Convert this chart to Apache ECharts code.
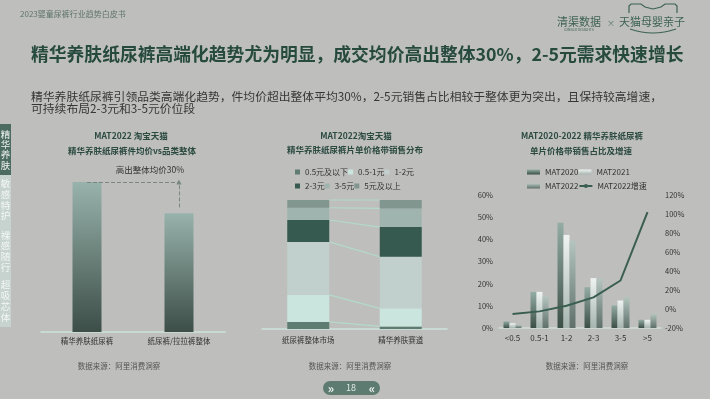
<!DOCTYPE html>
<html><head><meta charset="utf-8">
<script src="https://cdn.jsdelivr.net/npm/echarts@6/dist/echarts.min.js"></script>
<style>html,body{margin:0;padding:0;background:#bebebd;}#c{width:710px;height:399px;}</style>
</head><body><div id="c"></div>
<script>
// ---- Data ----
const c1Categories = ['精华养肤纸尿裤', '纸尿裤/拉拉裤整体'];
const c1Values = [130, 103];
const c1ArrowFrom = 108;

const c2Categories = ['纸尿裤整体市场', '精华养肤赛道'];
const c2Bands = ['0.5元及以下', '0.5-1元', '1-2元', '2-3元', '3-5元', '5元及以上'];
const c2Market = [5.5, 21, 41, 17, 9.5, 6];
const c2Essence = [2, 14, 40, 23, 14.5, 6.5];

const c3Categories = ['<0.5', '0.5-1', '1-2', '2-3', '3-5', '>5'];
const c3Mat2020 = [3.0, 16.3, 47.5, 18.4, 10.2, 3.7];
const c3Mat2021 = [2.2, 16.3, 42.0, 22.5, 12.4, 3.7];
const c3Mat2022 = [1.4, 14.2, 39.3, 22.2, 14.0, 6.4];
const c3Growth = [-5.3, -2.5, 3.5, 12.2, 30, 102];

// ---- Styles ----
const FONT = 'Noto Sans CJK SC';
const c2Colors = ['#5e7c72', '#c9e5de', '#c1d0cd', '#365a4f', '#9fb4ae', '#80968f'];
const c2BarWidth = 42;
function vgrad(top, bottom) {
  return new echarts.graphic.LinearGradient(0, 0, 0, 1, [{offset: 0, color: top}, {offset: 1, color: bottom}]);
}

const chart = echarts.init(document.getElementById('c'), null, {renderer: 'canvas'});

// connectors between stacked bars
const connectorData = [];
let s1 = 0, s2 = 0;
for (let i = 0; i < c2Bands.length; i++) {
  s1 += c2Market[i]; s2 += c2Essence[i];
  connectorData.push([0, s1, s2]);
}

const c2Series = c2Bands.map((name, i) => ({
  name, type: 'bar', stack: 'dist', xAxisIndex: 1, yAxisIndex: 1,
  barWidth: c2BarWidth, data: [c2Market[i], c2Essence[i]],
  itemStyle: {color: c2Colors[i]}, silent: true
}));

function txt(x, y, text, size, color, opts) {
  return {
    type: 'text', x, y, silent: true,
    style: Object.assign({text, fontSize: size, fill: color, fontFamily: FONT, textAlign: 'center', textVerticalAlign: 'middle'}, opts || {})
  };
}

const graphics = [
  txt(20, 14, '2023婴童尿裤行业趋势白皮书', 8, '#5e746c', {textAlign: 'left'}),
  txt(31, 54, '精华养肤纸尿裤高端化趋势尤为明显，成交均价高出整体30%，2-5元需求快速增长', 17.8, '#264a3d', {textAlign: 'left', fontWeight: 'bold'}),
  txt(31, 97, '精华养肤纸尿裤引领品类高端化趋势，件均价超出整体平均30%，2-5元销售占比相较于整体更为突出，且保持较高增速，', 11.8, '#363636', {textAlign: 'left'}),
  txt(31, 109, '可持续布局2-3元和3-5元价位段', 11.8, '#363636', {textAlign: 'left'}),
  // logo
  txt(579, 22, '清渠数据', 11, '#3d6255'),
  txt(579, 30, 'GINSGO INSIGHTS', 3.5, '#3d6255'),
  txt(611, 23, '×', 8, '#55716a'),
  txt(652, 22, '天猫母婴亲子', 11, '#3d6255'),
  {type: 'polyline', silent: true,
   shape: {points: [[629, 13], [629, 6], [631, 4], [641, 4], [645, 7], [653, 9], [661, 7], [665, 4], [675, 4], [677, 6], [677, 13]]},
   style: {stroke: '#3d6255', lineWidth: 1.2, fill: null}},
  {type: 'bezierCurve', silent: true,
   shape: {x1: 630, y1: 29, x2: 676, y2: 29, cpx1: 653, cpy1: 37},
   style: {stroke: '#3d6255', lineWidth: 1.2, fill: null}},
  // sidebar
  {type: 'rect', silent: true, shape: {x: 0, y: 124, width: 11, height: 51}, style: {fill: '#4c6b61'}},
  {type: 'rect', silent: true, shape: {x: 0, y: 175, width: 11, height: 152}, style: {fill: '#c6d3cf'}},
  txt(5.5, 149.5, '精\n华\n养\n肤', 9.5, '#eef3f1', {lineHeight: 10.4}),
  txt(5.5, 199.5, '敏\n感\n特\n护', 9.5, '#f4f7f6', {lineHeight: 10.9}),
  txt(5.5, 251, '裸\n感\n随\n行', 9.5, '#f4f7f6', {lineHeight: 10.6}),
  txt(5.5, 300.5, '超\n吸\n芯\n体', 9.5, '#f4f7f6', {lineHeight: 11}),
  // chart 1 texts
  txt(131, 136, 'MAT2022 淘宝天猫', 8.5, '#2b4a40', {fontWeight: 'bold'}),
  txt(132, 151, '精华养肤纸尿裤件均价vs品类整体', 8.5, '#2b4a40', {fontWeight: 'bold'}),
  txt(150, 170, '高出整体均价30%', 8.5, '#333333'),
  txt(119, 366, '数据来源：阿里消费洞察', 7.5, '#555555'),
  // chart 2 texts
  txt(356, 136, 'MAT2022淘宝天猫', 8.5, '#2b4a40', {fontWeight: 'bold'}),
  txt(355, 150, '精华养肤纸尿裤片单价格带销售分布', 8.5, '#2b4a40', {fontWeight: 'bold'}),
  txt(350, 366, '数据来源：阿里消费洞察', 7.5, '#555555'),
  // chart 3 texts
  txt(582, 136, 'MAT2020-2022 精华养肤纸尿裤', 8.5, '#2b4a40', {fontWeight: 'bold'}),
  txt(581, 151, '单片价格带销售占比及增速', 8.5, '#2b4a40', {fontWeight: 'bold'}),
  txt(587, 366, '数据来源：阿里消费洞察', 7.5, '#555555'),
  // pager
  {type: 'rect', silent: true, shape: {x: 323, y: 381, width: 57, height: 14, r: 7}, style: {fill: '#5d7b71'}},
  txt(331, 388, '»', 12, '#eef4f2', {fontWeight: 'bold'}),
  txt(351, 388, '18', 9, '#dfe9e6'),
  txt(372, 388, '«', 12, '#eef4f2', {fontWeight: 'bold'})
];

const axisLabelStyle = {fontSize: 7.5, color: '#333', fontFamily: FONT};

const option = {
  backgroundColor: '#bebebd',
  animation: false,
  textStyle: {fontFamily: FONT},
  grid: [
    {left: 41, top: 182, width: 184, height: 150},
    {left: 262, top: 200, width: 185, height: 129},
    {left: 499, top: 195, width: 162, height: 133}
  ],
  xAxis: [
    {type: 'category', gridIndex: 0, data: c1Categories,
     axisLine: {lineStyle: {color: '#cde3dc', width: 1.5}}, axisTick: {show: false},
     axisLabel: Object.assign({margin: 5}, axisLabelStyle)},
    {type: 'category', gridIndex: 1, data: c2Categories,
     axisLine: {lineStyle: {color: '#cde3dc', width: 1.5}}, axisTick: {show: false},
     axisLabel: Object.assign({margin: 7}, axisLabelStyle)},
    {type: 'category', gridIndex: 2, data: c3Categories,
     axisLine: {lineStyle: {color: '#d0ddd8', width: 1.5}}, axisTick: {show: false},
     axisLabel: Object.assign({margin: 6}, axisLabelStyle, {fontSize: 8})}
  ],
  yAxis: [
    {type: 'value', gridIndex: 0, min: 0, max: 130, show: false},
    {type: 'value', gridIndex: 1, min: 0, max: 100, show: false},
    {type: 'value', gridIndex: 2, min: 0, max: 60, interval: 10, splitLine: {show: false},
     axisLine: {show: false}, axisTick: {show: false},
     axisLabel: Object.assign({margin: 6, formatter: '{value}%'}, axisLabelStyle)},
    {type: 'value', gridIndex: 2, min: -20, max: 120, interval: 20, position: 'right', splitLine: {show: false},
     axisLine: {show: false}, axisTick: {show: false},
     axisLabel: Object.assign({margin: 4, formatter: '{value}%'}, axisLabelStyle)}
  ],
  legend: [
    {left: 290, top: 163, itemWidth: 5, itemHeight: 5, itemGap: 0, icon: 'rect', selectedMode: false,
     textStyle: {fontSize: 8, color: '#333', width: 34}, data: c2Bands.slice(0, 3)},
    {left: 290, top: 177, itemWidth: 5, itemHeight: 5, itemGap: 0, icon: 'rect', selectedMode: false,
     textStyle: {fontSize: 8, color: '#333', width: 34}, data: c2Bands.slice(3, 6)},
    {left: 522, top: 163, itemWidth: 13, itemHeight: 5, itemGap: 0, selectedMode: false,
     textStyle: {fontSize: 8, color: '#333', width: 43},
     data: [{name: 'MAT2020', icon: 'rect'}, {name: 'MAT2021', icon: 'rect'}]},
    {left: 522, top: 177, itemWidth: 13, itemHeight: 5, itemGap: 0, selectedMode: false,
     textStyle: {fontSize: 8, color: '#333', width: 43},
     data: [{name: 'MAT2022', icon: 'rect'}, {name: 'MAT2022增速'}]}
  ],
  series: [
    {type: 'bar', xAxisIndex: 0, yAxisIndex: 0, barWidth: 29, data: c1Values, silent: true,
     itemStyle: {color: vgrad('#98b3ac', '#3c4e47')},
     markLine: {silent: true, symbol: ['none', 'none'], symbolSize: 5, label: {show: false},
       lineStyle: {type: 'dashed', color: '#78877f', width: 1},
       data: [
         [{coord: [c1Categories[0], c1Values[0]]}, {coord: [c1Categories[1], c1Values[0]]}],
         [{coord: [c1Categories[1], c1ArrowFrom], symbol: 'none'}, {coord: [c1Categories[1], c1Values[0]], symbol: 'triangle', symbolSize: 5}]
       ]}},
    ...c2Series,
    {type: 'custom', xAxisIndex: 1, yAxisIndex: 1, silent: true, data: connectorData,
     encode: {x: 0, y: 1},
     renderItem: function (params, api) {
       const p1 = api.coord([0, api.value(1)]);
       const p2 = api.coord([1, api.value(2)]);
       const half = c2BarWidth / 2;
       return {type: 'line', shape: {x1: p1[0] + half, y1: p1[1], x2: p2[0] - half, y2: p2[1]},
         style: {stroke: '#b2dacd', lineWidth: 1.2}};
     }},
    {name: 'MAT2020', type: 'bar', xAxisIndex: 2, yAxisIndex: 2, barWidth: 6, barGap: '0%', data: c3Mat2020, silent: true,
     itemStyle: {color: vgrad('#93aca4', '#3c4f47')}},
    {name: 'MAT2021', type: 'bar', xAxisIndex: 2, yAxisIndex: 2, barWidth: 6, barGap: '0%', data: c3Mat2021, silent: true,
     itemStyle: {color: vgrad('#eef3f1', '#a6b5b0')}},
    {name: 'MAT2022', type: 'bar', xAxisIndex: 2, yAxisIndex: 2, barWidth: 6, barGap: '0%', data: c3Mat2022, silent: true,
     itemStyle: {color: vgrad('#b4c4bf', '#5f706a')}},
    {name: 'MAT2022增速', type: 'line', xAxisIndex: 2, yAxisIndex: 3, data: c3Growth, silent: true,
     symbol: 'none', lineStyle: {color: '#3a5e51', width: 2}, itemStyle: {color: '#3a5e51'}}
  ],
  graphic: graphics
};
chart.setOption(option);
</script></body></html>
